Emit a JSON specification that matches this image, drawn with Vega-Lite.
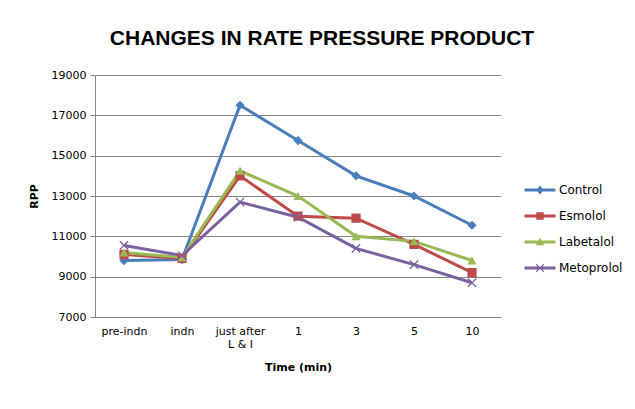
{
  "$schema": "https://vega.github.io/schema/vega-lite/v6.json",
  "autosize": "none",
  "width": 406,
  "height": 242,
  "padding": {"left": 95, "top": 75, "right": 134, "bottom": 92},
  "background": "white",
  "title": {
    "text": "CHANGES IN RATE PRESSURE PRODUCT",
    "font": "Liberation Sans",
    "fontSize": 21,
    "fontWeight": "bold",
    "color": "#000000",
    "anchor": "middle",
    "dx": 24,
    "offset": 20
  },
  "data": {
    "values": [
      {"time": "pre-indn", "group": "Control", "rpp": 9800},
      {"time": "indn", "group": "Control", "rpp": 9850},
      {"time": "just after L & I", "group": "Control", "rpp": 17500},
      {"time": "1", "group": "Control", "rpp": 15750},
      {"time": "3", "group": "Control", "rpp": 14000},
      {"time": "5", "group": "Control", "rpp": 13000},
      {"time": "10", "group": "Control", "rpp": 11550},
      {"time": "pre-indn", "group": "Esmolol", "rpp": 10100},
      {"time": "indn", "group": "Esmolol", "rpp": 9900},
      {"time": "just after L & I", "group": "Esmolol", "rpp": 14000},
      {"time": "1", "group": "Esmolol", "rpp": 12000},
      {"time": "3", "group": "Esmolol", "rpp": 11900},
      {"time": "5", "group": "Esmolol", "rpp": 10600},
      {"time": "10", "group": "Esmolol", "rpp": 9200},
      {"time": "pre-indn", "group": "Labetalol", "rpp": 10200},
      {"time": "indn", "group": "Labetalol", "rpp": 9950},
      {"time": "just after L & I", "group": "Labetalol", "rpp": 14250},
      {"time": "1", "group": "Labetalol", "rpp": 13000},
      {"time": "3", "group": "Labetalol", "rpp": 11000},
      {"time": "5", "group": "Labetalol", "rpp": 10750},
      {"time": "10", "group": "Labetalol", "rpp": 9800},
      {"time": "pre-indn", "group": "Metoprolol", "rpp": 10550},
      {"time": "indn", "group": "Metoprolol", "rpp": 10050},
      {"time": "just after L & I", "group": "Metoprolol", "rpp": 12700},
      {"time": "1", "group": "Metoprolol", "rpp": 11950},
      {"time": "3", "group": "Metoprolol", "rpp": 10400},
      {"time": "5", "group": "Metoprolol", "rpp": 9600},
      {"time": "10", "group": "Metoprolol", "rpp": 8700}
    ]
  },
  "encoding": {
    "x": {
      "field": "time",
      "type": "nominal",
      "sort": ["pre-indn", "indn", "just after L & I", "1", "3", "5", "10"],
      "scale": {"type": "point", "padding": 0.5},
      "axis": {
        "title": "Time (min)",
        "titleFont": "DejaVu Sans",
        "titleFontSize": 11,
        "titleFontWeight": "bold",
        "titleColor": "#000000",
        "titlePadding": 12,
        "labelAngle": 0,
        "labelFont": "DejaVu Sans",
        "labelFontSize": 11,
        "labelColor": "#000000",
        "labelPadding": 8,
        "labelExpr": "datum.label == 'just after L & I' ? ['just after', 'L & I'] : datum.label",
        "domainColor": "#868686",
        "ticks": false,
        "grid": false
      }
    },
    "y": {
      "field": "rpp",
      "type": "quantitative",
      "scale": {"domain": [7000, 19000], "nice": false, "zero": false},
      "axis": {
        "title": "RPP",
        "titleFont": "DejaVu Sans",
        "titleFontSize": 11,
        "titleFontWeight": "bold",
        "titleColor": "#000000",
        "titlePadding": 12,
        "values": [7000, 9000, 11000, 13000, 15000, 17000, 19000],
        "format": "d",
        "labelFont": "DejaVu Sans",
        "labelFontSize": 11,
        "labelColor": "#000000",
        "labelPadding": 4,
        "tickColor": "#868686",
        "tickSize": 5,
        "domainColor": "#868686",
        "gridColor": "#868686",
        "gridWidth": 1
      }
    }
  },
  "layer": [
    {
      "mark": {"type": "line", "strokeWidth": 3, "point": {"size": 85, "filled": true}},
      "encoding": {
        "color": {
          "field": "group",
          "type": "nominal",
          "scale": {
            "domain": ["Control", "Esmolol", "Labetalol", "Metoprolol"],
            "range": ["#4A7EBB", "#BE4B48", "#98B954", "#7D60A0"]
          },
          "legend": null
        },
        "shape": {
          "field": "group",
          "type": "nominal",
          "scale": {
            "domain": ["Control", "Esmolol", "Labetalol", "Metoprolol"],
            "range": ["diamond", "square", "triangle-up", "M-0.8,-1L0,-0.2L0.8,-1L1,-0.8L0.2,0L1,0.8L0.8,1L0,0.2L-0.8,1L-1,0.8L-0.2,0L-1,-0.8Z"]
          },
          "legend": null
        }
      }
    },
    {
      "mark": {"type": "point", "filled": true, "size": 70, "opacity": 0},
      "encoding": {
        "fill": {
          "field": "group",
          "type": "nominal",
          "scale": {
            "domain": ["Control", "Esmolol", "Labetalol", "Metoprolol"],
            "range": ["#4A7EBB", "#BE4B48", "#98B954", "#7D60A0"]
          },
          "legend": {
            "title": null,
            "orient": "none",
            "legendX": 439,
            "legendY": 109,
            "labelFont": "DejaVu Sans",
            "labelFontSize": 12,
            "labelColor": "#000000",
            "symbolSize": 70,
            "symbolOpacity": 1,
            "rowPadding": 11,
            "labelOffset": 13
          }
        },
        "shape": {
          "field": "group",
          "type": "nominal",
          "scale": {
            "domain": ["Control", "Esmolol", "Labetalol", "Metoprolol"],
            "range": [
              "M-3.7,-0.36H3.7V0.36H-3.7ZM0,-1.1L0.9,0L0,1.1L-0.9,0Z",
              "M-3.7,-0.36H3.7V0.36H-3.7ZM-0.9,-0.9H0.9V0.9H-0.9Z",
              "M-3.7,-0.36H3.7V0.36H-3.7ZM0,-1L1,0.8H-1Z",
              "M-3.7,-0.36H3.7V0.36H-3.7ZM-0.8,-1L0,-0.2L0.8,-1L1,-0.8L0.2,0L1,0.8L0.8,1L0,0.2L-0.8,1L-1,0.8L-0.2,0L-1,-0.8Z"
            ]
          },
          "legend": {
            "title": null,
            "orient": "none",
            "legendX": 439,
            "legendY": 109,
            "labelFont": "DejaVu Sans",
            "labelFontSize": 12,
            "labelColor": "#000000",
            "symbolSize": 70,
            "symbolOpacity": 1,
            "rowPadding": 11,
            "labelOffset": 13
          }
        }
      }
    }
  ],
  "resolve": {"scale": {"shape": "independent", "fill": "independent"}},
  "config": {"view": {"stroke": null}}
}
